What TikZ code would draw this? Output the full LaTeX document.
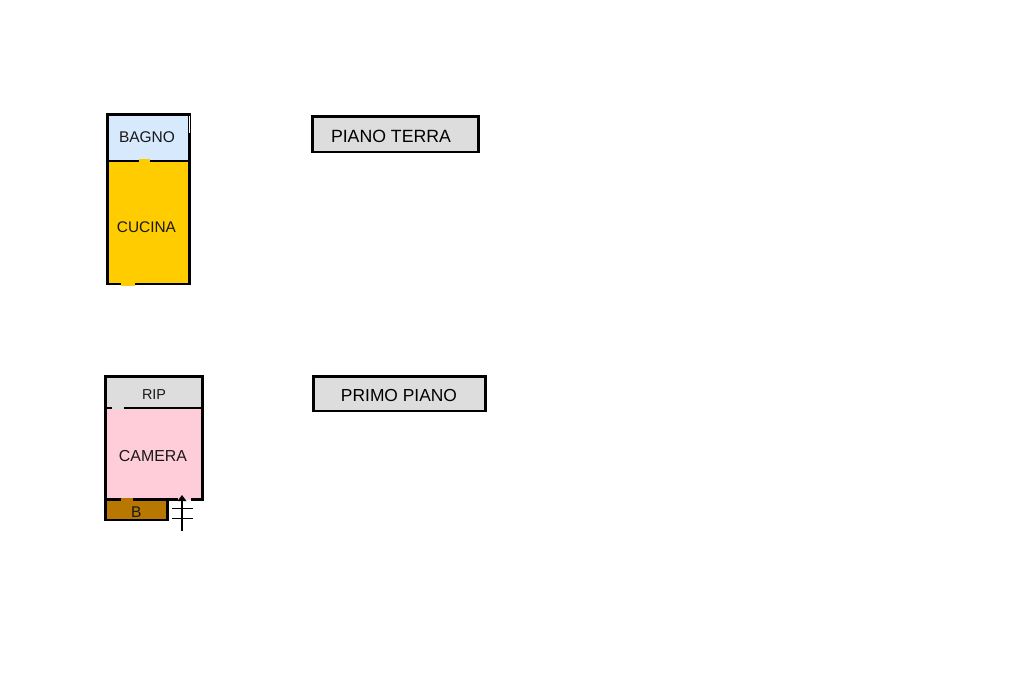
\documentclass[tikz,border=0pt]{standalone}
\usepackage{fontspec}
\setmainfont{Liberation Sans}
\definecolor{bagnoc}{HTML}{D6E9FD}
\definecolor{cucinac}{HTML}{FFCC00}
\definecolor{ripc}{HTML}{DDDDDD}
\definecolor{camerac}{HTML}{FFCCD9}
\definecolor{bc}{HTML}{B87700}
\tikzset{
  wall/.style={draw=black,line width=2.8pt,line join=miter},
  lab/.style={inner sep=0pt,text=black!90},
  ttl/.style={inner sep=0pt,text=black},
  titlebox/.style={draw=black,line width=2.8pt,fill=ripc},
  stairline/.style={draw=black,line width=1.5pt},
}
\newcommand{\fs}[1]{\fontsize{#1}{#1}\selectfont}
\begin{document}
\begin{tikzpicture}[x=1pt,y=-1pt]
\useasboundingbox (0,0) rectangle (1024,682);
% piano terra
\path[fill=bagnoc] (107.5,114.5) rectangle (189.5,161);
\path[fill=cucinac] (107.5,161) rectangle (189.5,284);
\draw[wall] (107.5,114.5) rectangle (189.5,284);
\draw[wall] (107.5,161) -- (189.5,161);
\path[fill=cucinac] (138.5,159.4) rectangle (150,162.6);
\path[fill=cucinac] (121,282.4) rectangle (135,285.6);
\path[fill=white] (188.6,116) rectangle (190,133);
\node[lab,font=\fs{15.5}] (bagno) at (147,137.3) {BAGNO};
\node[lab,font=\fs{15.4}] (cucina) at (146.5,227.3) {CUCINA};
\node[titlebox,minimum width=166pt,minimum height=35.5pt,inner sep=0pt] (tbox1) at (395.5,134.25) {};
\node[ttl,font=\fs{17.7}] (t1) at (391,136.3) {PIANO TERRA};
% primo piano
\path[fill=ripc] (105.5,376.5) rectangle (202.5,408);
\path[fill=camerac] (105.5,408) rectangle (202.5,499.5);
\path[fill=bc] (105.5,499.5) rectangle (167.5,520);
\draw[wall] (105.5,376.5) rectangle (202.5,499.5);
\draw[wall] (105.5,408) -- (202.5,408);
\draw[wall] (105.5,499.5) rectangle (167.5,520);
\path[fill=ripc] (112,406.4) rectangle (123.5,409.6);
\path[fill=bc] (121,497.9) rectangle (132.7,501.1);
\path[fill=camerac] (177.5,497.9) rectangle (191,501.1);
\path[fill=white] (177.5,499.5) rectangle (191,501.1);
\node[lab,font=\fs{14.4}] (rip) at (154,394.5) {RIP};
\node[lab,font=\fs{15.9}] (camera) at (153,456.3) {CAMERA};
\node[lab,font=\fs{15.5}] (b) at (136.3,512.3) {B};
\node[titlebox,minimum width=172pt,minimum height=34.5pt,inner sep=0pt] (tbox2) at (399.5,393.75) {};
\node[ttl,font=\fs{17.4}] (t2) at (399,395.6) {PRIMO PIANO};
% stair
\coordinate (sb) at (182,531);
\coordinate (st) at (182,495);
\coordinate (a1) at (172,508.5);
\coordinate (a2) at (193,508.5);
\coordinate (c1) at (172,518.5);
\coordinate (c2) at (193,518.5);
\draw[stairline] (a1) -- (a2);
\draw[stairline] (c1) -- (c2);
\draw[stairline] (sb) -- (182,499);
\path[fill=black] (st) -- (186.5,501) -- (177.5,501) -- cycle;
\end{tikzpicture}
\end{document}
